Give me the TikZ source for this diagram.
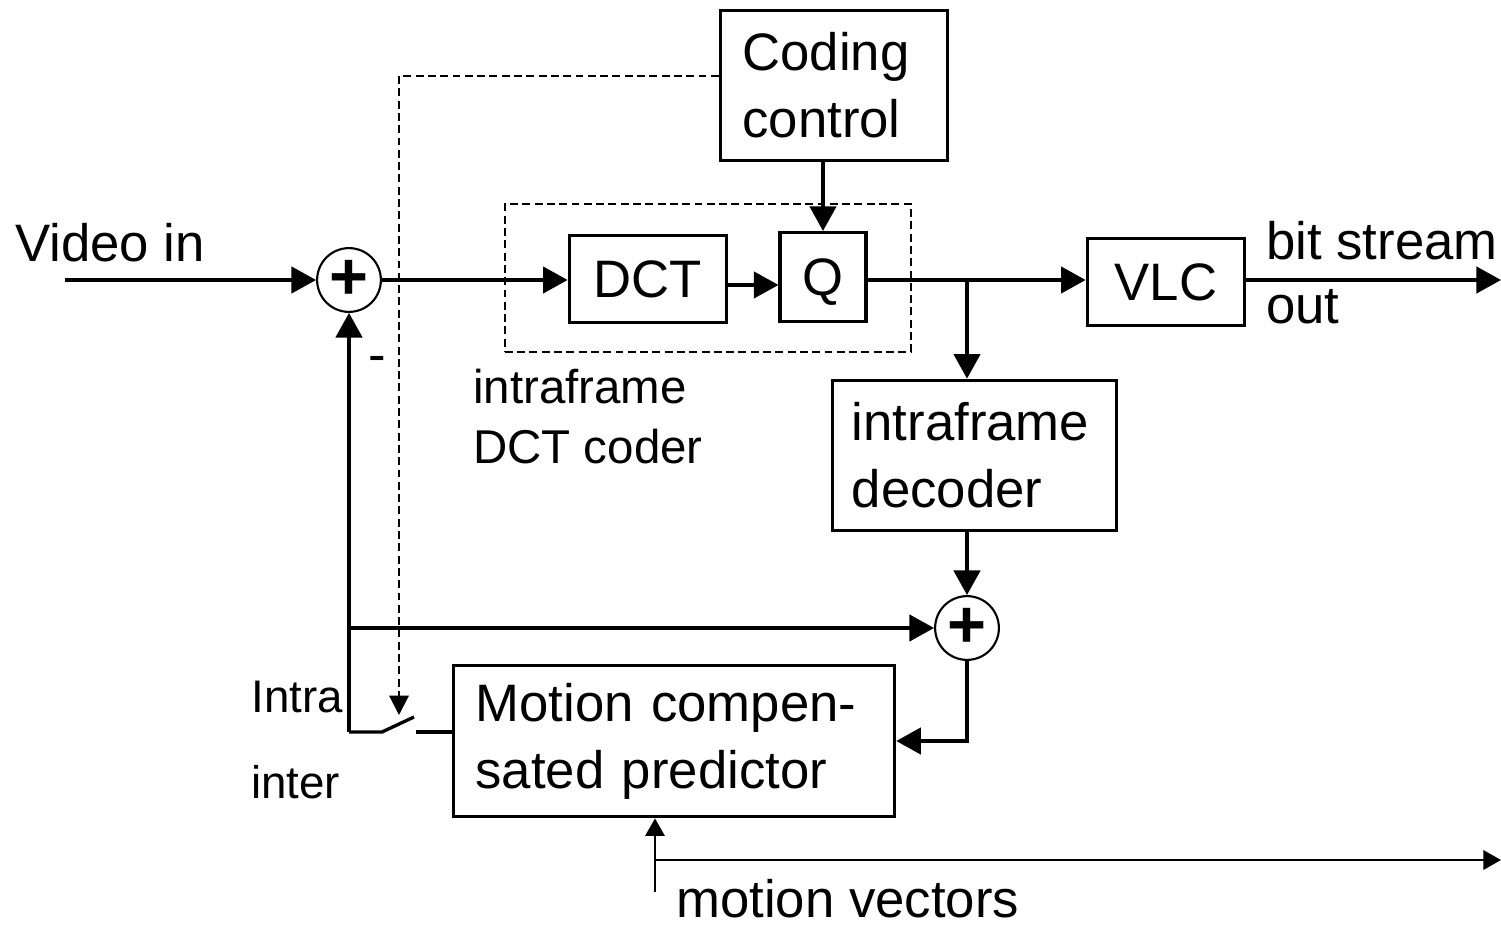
\documentclass[tikz,border=0pt]{standalone}
\usepackage{fontspec}
\setmainfont{Liberation Sans}
\usetikzlibrary{arrows.meta, positioning}

\begin{document}
\begin{tikzpicture}[
  x=0.02cm, y=-0.02cm,
  every node/.style={font=\fontsize{30}{38}\selectfont},
  box/.style={draw, line width=1.9pt, inner sep=0pt, align=center},
  txtbox/.style={draw, line width=1.9pt, align=left, inner xsep=12.5pt, inner ysep=0pt},
  sum/.style={draw, circle, line width=1.2pt, minimum size=36.3pt, inner sep=0pt,
              font=\fontsize{38}{40}\selectfont\bfseries},
  arr/.style={-{Triangle[length=14pt, width=15pt]}, line width=1.9pt},
  wire/.style={line width=1.9pt},
  thinarr/.style={-{Triangle[length=10pt, width=11pt]}, line width=1.2pt},
  ctl/.style={line width=1.2pt, dash pattern=on 4.5pt off 2.5pt},
  lbl/.style={anchor=base west, inner sep=0pt},
]
  \useasboundingbox (0,0) rectangle (1501,926);

  % blocks
  \node[txtbox, minimum width=129.3pt, minimum height=85.6pt, text width=104.3pt]
        (ctrl) at (834,85.5) {Coding\\control};
  \node[draw, ctl, minimum width=231.3pt, minimum height=83.9pt] (coder) at (708,278) {};
  \node[box, minimum width=89.6pt, minimum height=49.3pt] (dct) at (648,279) {DCT};
  \node[box, text depth=0pt, minimum width=48.8pt, minimum height=50.5pt] (q) at (823,277) {Q};
  \node[box, minimum width=89.6pt, minimum height=49.3pt] (vlc) at (1166,282) {VLC};
  \node[txtbox, inner xsep=11pt, minimum width=161.6pt, minimum height=85.6pt, text width=139.6pt]
        (dec) at (974.5,455.5) {intraframe\\decoder};
  \node[txtbox, minimum width=251.1pt, minimum height=86.2pt, text width=226pt]
        (mcp) at (674,741) {Motion compen-\\sated predictor};
  \node[sum] (sumin)  at (349,280) {+};
  \node[sum] (sumrec) at (967,628) {+};

  % free ends
  \coordinate (vin)    at (65,280);
  \coordinate (out)    at (1501,280);
  \coordinate (br)     at (967,280);
  \coordinate (sw1)    at (349,732);
  \coordinate (sw2)    at (382,732);
  \coordinate (sw3)    at (414,717);
  \coordinate (sw4)    at (416,732);
  \coordinate (cl)     at (399,76);
  \coordinate (cltip)  at (399,715);
  \coordinate (mvin)   at (655,892);
  \coordinate (mvj)    at (655,860);
  \coordinate (mvout)  at (1501,860);

  % forward path
  \draw[arr] (vin) -- (sumin.west);
  \draw[arr] (sumin.east) -- (dct.west |- sumin);
  \draw[arr] ([yshift=-3.4pt]dct.east) -- ([yshift=-3.4pt]dct.east -| q.west);
  \draw[arr] (q.east |- sumin) -- (vlc.west |- sumin);
  \draw[arr] (vlc.east |- sumin) -- (out);
  \draw[arr] (ctrl.south -| q) -- (q.north);

  % reconstruction loop
  \draw[arr] (br) -- (dec.north -| br);
  \draw[arr] (dec.south -| sumrec) -- (sumrec.north);
  \draw[arr] (sumrec.south) |- (mcp.east);
  \draw[arr] (sumin.south |- sumrec) -- (sumrec.west);
  \draw[arr] (sw1) -- (sumin.south);

  % intra/inter switch
  \draw[wire] (sw1) -- (sw2) -- (sw3);
  \draw[wire] (sw4) -- (mcp.west |- sw4);
  \draw[ctl, -{Triangle[length=11pt, width=11pt]}] (ctrl.west |- cl) -- (cl) -- (cltip);

  % motion vectors
  \draw[thinarr] (mvin) -- (mcp.south -| mvin);
  \draw[thinarr] (mvj) -- (mvout);

  % labels
  \node[lbl] (lvid)   at (15,261)   {Video in};
  \node[lbl] (lbit)   at (1266,259) {bit stream};
  \node[lbl] (lout)   at (1266,323) {out};
  \node[lbl, font=\fontsize{27}{34}\selectfont] (lintra) at (473,403) {intraframe};
  \node[lbl, font=\fontsize{27}{34}\selectfont] (ldct)   at (473,463) {DCT coder};
  \node[anchor=base, inner sep=0pt] (lminus) at (377,372) {-};
  \node[lbl, font=\fontsize{26}{32}\selectfont] (lIntra) at (251,712) {Intra};
  \node[lbl, font=\fontsize{26}{32}\selectfont] (linter) at (251,798) {inter};
  \node[lbl] (lmv)    at (676,917) {motion vectors};
\end{tikzpicture}
\end{document}
